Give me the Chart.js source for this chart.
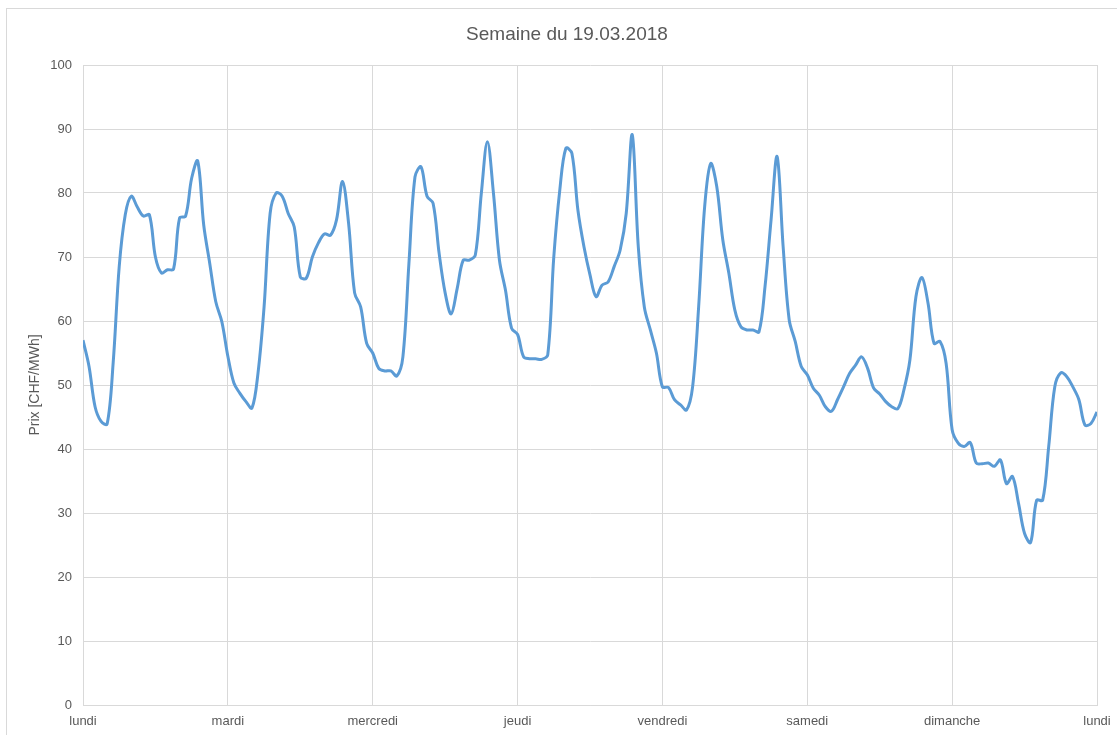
<!DOCTYPE html>
<html>
<head>
<meta charset="utf-8">
<script src="https://cdn.jsdelivr.net/npm/chart.js@4.4.1/dist/chart.umd.min.js"></script>
<style>
  html, body { margin: 0; padding: 0; background: #ffffff; }
  #wrap { position: relative; width: 1117px; height: 735px; overflow: hidden; }
  canvas { display: block; }
</style>
</head>
<body>
<div id="wrap"><canvas id="c" width="1117" height="735"></canvas></div>
<script>
// Day labels at each day boundary (every 24 hours)
const dayLabels = ["lundi", "mardi", "mercredi", "jeudi", "vendredi", "samedi", "dimanche", "lundi"];
const chartTitle = "Semaine du 19.03.2018";
const yTitle = "Prix [CHF/MWh]";

// Hourly prices (CHF/MWh), one array per day, hours 0..23
const lundi    = [57.0, 52.9, 46.6, 44.3, 43.9, 53.5, 68.5, 76.6, 79.5, 77.8, 76.4, 76.6, 70.0, 67.5, 68.0, 68.1, 76.1, 76.4, 82.3, 85.0, 75.0, 69.0, 63.0, 59.9];
const mardi    = [54.5, 50.3, 48.7, 47.4, 46.4, 51.9, 62.2, 76.8, 80.0, 79.5, 76.8, 74.7, 66.9, 66.7, 70.0, 72.2, 73.6, 73.4, 75.8, 81.8, 75.3, 64.4, 62.2, 56.5];
const mercredi = [55.0, 52.6, 52.2, 52.2, 51.4, 54.4, 69.0, 82.5, 84.1, 79.5, 78.4, 70.6, 64.4, 61.1, 65.1, 69.5, 69.5, 70.3, 80.0, 88.0, 80.0, 69.5, 64.8, 58.9];
const jeudi    = [57.9, 54.4, 54.1, 54.1, 54.0, 54.7, 70.0, 80.5, 87.0, 86.2, 77.3, 71.6, 67.2, 63.8, 65.6, 66.1, 68.5, 71.1, 76.8, 89.1, 71.6, 62.2, 58.6, 55.0];
const vendredi = [49.7, 49.6, 47.7, 46.9, 46.1, 49.7, 62.2, 77.9, 84.6, 81.0, 72.7, 67.5, 61.7, 59.1, 58.6, 58.6, 58.3, 65.4, 75.8, 85.7, 71.6, 60.2, 56.8, 52.9];
const samedi   = [51.6, 49.5, 48.4, 46.6, 45.9, 47.7, 49.7, 51.8, 53.1, 54.4, 52.6, 49.5, 48.6, 47.4, 46.6, 46.3, 49.2, 53.9, 63.8, 66.8, 62.8, 56.5, 56.8, 53.4];
const dimanche = [43.0, 40.9, 40.4, 41.0, 37.8, 37.7, 37.8, 37.3, 38.3, 34.6, 35.7, 31.5, 26.8, 25.4, 32.0, 32.0, 40.4, 49.7, 51.9, 51.3, 49.7, 47.7, 43.75, 44.0];
const lundiSuivant = [45.8];

const weekValues = [].concat(lundi, mardi, mercredi, jeudi, vendredi, samedi, dimanche, lundiSuivant);
const points = weekValues.map((v, i) => ({ x: i, y: v }));

const FONT = "'Liberation Sans', Arial, sans-serif";
const TXT = "#595959";
const GRID = "#D9D9D9";

const frameAndTitle = {
  id: 'frameAndTitle',
  beforeDraw(chart) {
    const ctx = chart.ctx;
    ctx.save();
    ctx.fillStyle = '#ffffff';
    ctx.fillRect(0, 0, chart.width, chart.height);
    ctx.strokeStyle = GRID;
    ctx.lineWidth = 1;
    ctx.strokeRect(6.5, 8.5, 1300, 900);
    ctx.fillStyle = TXT;
    ctx.font = "19px " + FONT;
    ctx.textAlign = 'center';
    ctx.textBaseline = 'middle';
    ctx.fillText(chartTitle, 567, 35);
    ctx.restore();
  }
};

new Chart(document.getElementById('c'), {
  type: 'line',
  data: {
    datasets: [{
      data: points,
      borderColor: '#5B9BD5',
      borderWidth: 3,
      pointRadius: 0,
      fill: false,
      tension: 0.35
    }]
  },
  options: {
    responsive: false,
    animation: false,
    layout: { padding: { left: 0, right: 20, top: 65, bottom: 0 } },
    plugins: {
      legend: { display: false },
      tooltip: { enabled: false },
      title: { display: false }
    },
    scales: {
      x: {
        type: 'linear',
        min: 0,
        max: 168,
        afterFit(scale) {
          scale.height = 30;
          scale.paddingLeft = 0;
          scale.paddingRight = 0;
        },
        afterBuildTicks(scale) {
          scale.ticks = dayLabels.map((_, i) => ({ value: i * 24 }));
        },
        ticks: {
          autoSkip: false,
          maxRotation: 0,
          minRotation: 0,
          padding: 9,
          color: TXT,
          font: { family: FONT, size: 13 },
          callback: (v) => dayLabels[Math.round(v / 24)]
        },
        grid: { color: GRID, lineWidth: 1, drawTicks: false },
        border: { color: GRID, width: 1 }
      },
      y: {
        min: 0,
        max: 100,
        afterFit(scale) { scale.width = 83; },
        ticks: {
          stepSize: 10,
          padding: 11,
          color: TXT,
          font: { family: FONT, size: 13 }
        },
        grid: { color: GRID, lineWidth: 1, drawTicks: false },
        border: { color: GRID, width: 1 },
        title: {
          display: true,
          text: yTitle,
          color: TXT,
          font: { family: FONT, size: 14, weight: 'normal' },
          padding: { top: 27, bottom: 0 }
        }
      }
    }
  },
  plugins: [frameAndTitle]
});
</script>
</body>
</html>
